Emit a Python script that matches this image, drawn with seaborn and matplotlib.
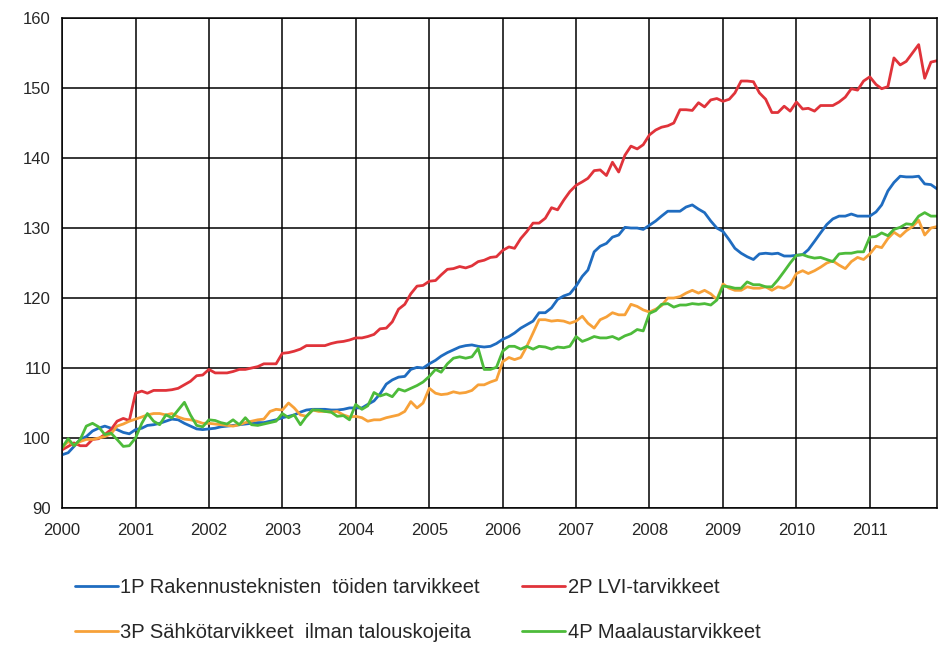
import matplotlib
matplotlib.use("Agg")
import matplotlib.dates as mdates  # noqa: E402
import matplotlib.pyplot as plt  # noqa: E402
import numpy as np  # noqa: E402
import pandas as pd  # noqa: E402
import seaborn as sns  # noqa: E402

# Kuukausittaiset indeksipisteluvut 2000/01 - 2011/12 (luettu kuvasta)
s1_rakennus = [
    97.6, 97.9, 98.8, 99.8, 100.2, 101.0, 101.4, 101.7, 101.4, 101.2, 100.8, 100.6,
    101.2, 101.4, 101.8, 101.9, 102.1, 102.4, 102.7, 102.6, 102.1, 101.7, 101.3, 101.2,
    101.3, 101.4, 101.6, 101.7, 101.8, 101.9, 102.0, 102.1, 102.2, 102.2, 102.4, 102.6,
    102.9, 103.1, 103.3, 103.7, 104.0, 104.1, 104.1, 104.1, 104.0, 104.0, 104.1, 104.3,
    104.3, 104.3, 104.8, 105.3, 106.3, 107.7, 108.3, 108.7, 108.8, 109.8, 110.1, 110.0,
    110.6, 111.1, 111.7, 112.2, 112.6, 113.0, 113.2, 113.3, 113.1, 113.0, 113.1, 113.5,
    114.1, 114.5, 115.0, 115.7, 116.2, 116.7, 117.9, 117.9, 118.6, 119.8, 120.3, 120.6,
    121.7, 123.1, 124.0, 126.6, 127.4, 127.8, 128.7, 129.0, 130.1, 130.0, 130.0, 129.8,
    130.4, 131.0, 131.7, 132.4, 132.4, 132.4, 133.0, 133.3, 132.7, 132.2, 131.0, 130.0,
    129.5, 128.3, 127.1, 126.4, 125.9, 125.5, 126.3, 126.4, 126.3, 126.4, 126.0, 126.0,
    126.1, 126.2, 126.9, 128.1, 129.3, 130.5, 131.3, 131.7, 131.7, 132.0, 131.7, 131.7,
    131.7, 132.3, 133.3, 135.3, 136.5, 137.4, 137.3, 137.3, 137.4, 136.3, 136.2, 135.6,
]
s2_lvi = [
    98.3, 98.8, 99.3, 98.9, 98.9, 99.8, 99.9, 100.5, 101.2, 102.4, 102.8, 102.5,
    106.4, 106.7, 106.4, 106.8, 106.8, 106.8, 106.9, 107.1, 107.6, 108.1, 108.9, 109.0,
    109.8, 109.3, 109.3, 109.3, 109.5, 109.8, 109.8, 110.0, 110.2, 110.6, 110.6, 110.6,
    112.1, 112.2, 112.4, 112.7, 113.2, 113.2, 113.2, 113.2, 113.5, 113.7, 113.8, 114.0,
    114.3, 114.3, 114.5, 114.8, 115.6, 115.7, 116.6, 118.4, 119.1, 120.6, 121.7, 121.8,
    122.4, 122.5, 123.3, 124.1, 124.2, 124.5, 124.3, 124.6, 125.2, 125.4, 125.8, 125.9,
    126.8, 127.3, 127.1, 128.5, 129.5, 130.7, 130.7, 131.4, 132.9, 132.6, 134.0, 135.2,
    136.1, 136.6, 137.1, 138.2, 138.3, 137.5, 139.4, 138.0, 140.4, 141.7, 141.3, 141.9,
    143.3, 144.0, 144.4, 144.6, 145.0, 146.9, 146.9, 146.8, 147.9, 147.3, 148.3, 148.5,
    148.1, 148.4, 149.3, 151.0, 151.0, 150.9, 149.3, 148.4, 146.5, 146.5, 147.4, 146.7,
    148.0, 147.0, 147.1, 146.7, 147.5, 147.5, 147.5, 148.0, 148.7, 149.9, 149.7, 151.0,
    151.6, 150.5, 149.9, 150.2, 154.3, 153.3, 153.8, 155.0, 156.2, 151.4, 153.7, 153.9,
]
s3_sahko = [
    98.6, 99.5, 99.0, 99.5, 99.8, 99.8, 100.0, 100.2, 100.6, 101.7, 102.0, 102.4,
    102.7, 103.0, 103.3, 103.5, 103.5, 103.3, 103.5, 103.0, 102.7, 102.6, 102.4, 102.1,
    102.1, 102.0, 101.9, 101.8, 101.7, 101.9, 102.2, 102.4, 102.6, 102.7, 103.8, 104.1,
    104.0, 105.0, 104.3, 103.3, 103.1, 104.0, 103.8, 103.8, 103.7, 103.8, 103.3, 103.0,
    103.1, 102.9, 102.4, 102.6, 102.6, 102.9, 103.1, 103.3, 103.8, 105.2, 104.3, 105.0,
    107.1, 106.4, 106.2, 106.3, 106.6, 106.4, 106.5, 106.8, 107.6, 107.6, 108.0, 108.3,
    110.9, 111.5, 111.2, 111.5, 113.1, 115.0, 116.9, 116.9, 116.7, 116.8, 116.7, 116.4,
    116.7, 117.4, 116.4, 115.7, 116.9, 117.3, 117.9, 117.6, 117.6, 119.1, 118.8, 118.3,
    118.0, 118.4, 118.9, 120.0, 120.0, 120.2, 120.7, 121.1, 120.7, 121.1, 120.6, 119.8,
    122.0, 121.4, 121.1, 121.1, 121.6, 121.4, 121.4, 121.6, 121.1, 121.6, 121.4, 121.9,
    123.5, 123.9, 123.5, 123.9, 124.4, 125.0, 125.3, 124.7, 124.2, 125.2, 125.8, 125.5,
    126.3, 127.4, 127.2, 128.5, 129.4, 128.8, 129.6, 130.2, 131.1, 129.0, 130.0, 130.2,
]
s4_maalaus = [
    98.6, 99.9, 98.9, 99.8, 101.7, 102.1, 101.6, 100.5, 100.7, 99.8, 98.8, 98.9,
    100.0, 102.1, 103.5, 102.4, 101.9, 103.3, 102.9, 104.0, 105.1, 103.3, 101.8, 101.6,
    102.6, 102.5, 102.2, 102.0, 102.6, 101.9, 102.9, 101.9, 101.8, 102.0, 102.2, 102.4,
    103.5, 102.9, 103.3, 101.9, 103.1, 104.0, 104.0, 103.8, 103.7, 103.1, 103.2, 102.6,
    104.8, 104.1, 104.6, 106.5, 106.0, 106.3, 105.9, 107.0, 106.7, 107.1, 107.5, 108.0,
    108.8, 109.8, 109.4, 110.6, 111.4, 111.6, 111.4, 111.6, 112.8, 109.8, 109.8, 110.1,
    112.4, 113.1, 113.1, 112.7, 113.1, 112.7, 113.1, 113.0, 112.7, 113.0, 112.9, 113.1,
    114.5, 113.8, 114.1, 114.5, 114.3, 114.3, 114.5, 114.1, 114.6, 114.9, 115.5, 115.3,
    117.8, 118.2, 119.1, 119.2, 118.7, 119.0, 119.0, 119.2, 119.1, 119.2, 119.0, 119.7,
    121.7, 121.6, 121.4, 121.4, 122.3, 121.9, 121.9, 121.6, 121.6, 122.6, 123.8, 125.0,
    126.1, 126.2, 125.9, 125.7, 125.8, 125.5, 125.2, 126.3, 126.4, 126.4, 126.6, 126.6,
    128.7, 128.8, 129.3, 128.9, 129.8, 130.1, 130.6, 130.5, 131.7, 132.2, 131.7, 131.7,
]

series_names = [
    "1P Rakennusteknisten  töiden tarvikkeet",
    "2P LVI-tarvikkeet",
    "3P Sähkötarvikkeet  ilman talouskojeita",
    "4P Maalaustarvikkeet",
]
series_colors = ["#1f6cc0", "#e0333a", "#f7a139", "#4dbb3a"]
months = pd.date_range("2000-01-01", periods=144, freq="MS")

df = pd.concat([
    pd.DataFrame({"kk": months, "indeksi": vals, "sarja": name})
    for name, vals in zip(series_names, [s1_rakennus, s2_lvi, s3_sahko, s4_maalaus])
], ignore_index=True)

sns.set_style("white")
plt.rcParams["font.family"] = ["Liberation Sans", "DejaVu Sans"]

fig = plt.figure(figsize=(9.43, 6.46), dpi=100)
ax = fig.add_axes([0.0657, 0.2136, 0.9279, 0.7585])

sns.lineplot(df, x="kk", y="indeksi", hue="sarja", hue_order=series_names,
             palette=dict(zip(series_names, series_colors)), linewidth=2.0, ax=ax)

ax.set_xlim(pd.Timestamp("2000-01-01"), pd.Timestamp("2011-12-01"))
ax.set_ylim(90, 160)
ax.set_yticks(np.arange(90, 161, 10))
ax.xaxis.set_major_locator(mdates.YearLocator())
ax.xaxis.set_major_formatter(mdates.DateFormatter("%Y"))
ax.set_xlabel("")
ax.set_ylabel("")
ax.grid(True, color="black", linewidth=1.1)
ax.set_axisbelow(True)
for sp in ax.spines.values():
    sp.set_visible(True)
    sp.set_color("black")
    sp.set_linewidth(1.1)
ax.tick_params(axis="both", direction="out", length=5, width=1, color="black",
               labelsize=12, pad=3)
ax.tick_params(axis="x", pad=6)

handles, labels = ax.get_legend_handles_labels()
ax.get_legend().remove()
order = [0, 2, 1, 3]
fig.legend([handles[i] for i in order], [labels[i] for i in order],
           loc="center left", bbox_to_anchor=(0.0795, 0.0557), ncol=2, frameon=False,
           fontsize=14.5, handlelength=2.15, handletextpad=0.1, columnspacing=2.1,
           labelspacing=1.3, borderpad=0, borderaxespad=0)

fig.savefig("out.png", dpi=100)
